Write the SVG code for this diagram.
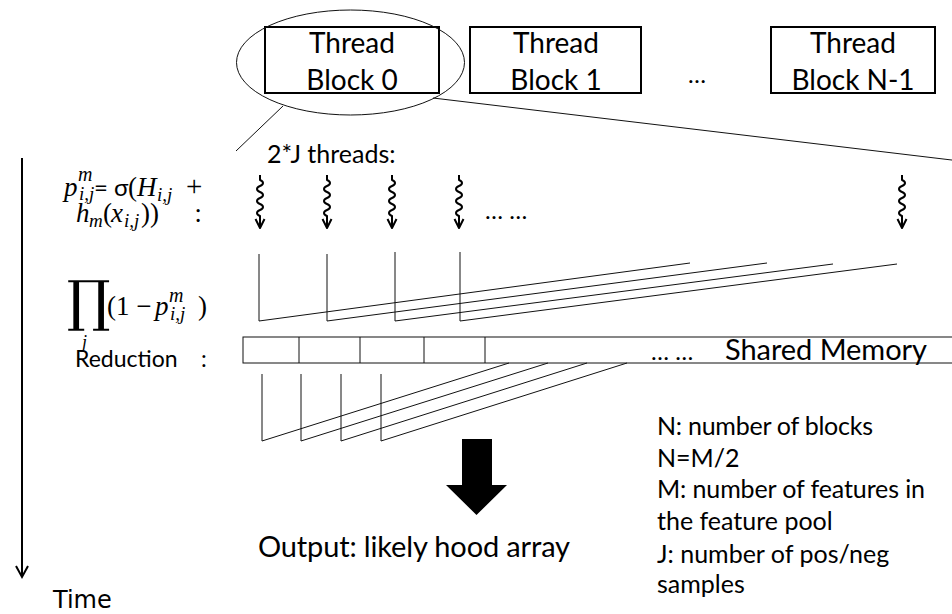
<svg xmlns="http://www.w3.org/2000/svg" xmlns:xlink="http://www.w3.org/1999/xlink" width="952" height="614" viewBox="0 0 952 614">
  <defs>
    <style>
      .t { font-family: Lato, "Open Sans", "Liberation Sans", sans-serif; fill: #000; }
      .m { font-family: "Liberation Serif", "DejaVu Serif", serif; font-style: italic; fill: #000; }
      .mu { font-family: "Liberation Serif", "DejaVu Serif", serif; fill: #000; }
      .box { fill: #fff; stroke: #000; stroke-width: 2; }
      .thin { fill: none; stroke: #111; stroke-width: 1; }
      .wave { fill: none; stroke: #000; stroke-width: 2; stroke-linejoin: round; }
    </style>
    <g id="thread">
      <path class="wave" d="M0,0 V5 c4,1.5 4,4.5 0,6 c-4,1.5 -4,4.5 0,6 c4,1.5 4,4.5 0,6 c-4,1.5 -4,4.5 0,6 c4,1.5 4,4.5 0,6 c-4,1.5 -4,4.5 0,6 V52"/>
      <path class="wave" d="M-4.5,44 L0,53 L4.5,44"/>
    </g>
  </defs>
  <rect width="952" height="614" fill="#fff"/>

  <!-- Thread blocks -->
  <g id="block0">
    <rect class="box" x="265" y="27" width="174" height="66"/>
    <text class="t" x="352" y="53" font-size="28" text-anchor="middle">Thread</text>
    <text class="t" x="352" y="90" font-size="28" text-anchor="middle">Block 0</text>
  </g>
  <g id="block1">
    <rect class="box" x="470" y="27" width="171" height="66"/>
    <text class="t" x="556" y="53" font-size="28" text-anchor="middle">Thread</text>
    <text class="t" x="556" y="90" font-size="28" text-anchor="middle">Block 1</text>
  </g>
  <g id="blocks-ellipsis">
    <text class="t" x="697" y="83" font-size="24" text-anchor="middle">…</text>
  </g>
  <g id="blockN1">
    <rect class="box" x="771" y="27" width="164" height="66"/>
    <text class="t" x="853" y="53" font-size="28" text-anchor="middle">Thread</text>
    <text class="t" x="853" y="90" font-size="28" text-anchor="middle">Block N-1</text>
  </g>

  <!-- Zoom-in ellipse and lines -->
  <g id="zoom">
    <ellipse class="thin" cx="350.5" cy="62.5" rx="114" ry="52.5"/>
    <line class="thin" x1="283" y1="106" x2="236" y2="151"/>
    <line class="thin" x1="433" y1="98" x2="960" y2="161"/>
  </g>

  <!-- Time axis -->
  <g id="time">
    <line x1="22" y1="158" x2="22" y2="576" stroke="#000" stroke-width="2"/>
    <path d="M16,566 L22,577 L28,566" fill="none" stroke="#000" stroke-width="2"/>
    <text x="53" y="608" font-size="24" style="font-family:'DejaVu Sans',sans-serif">Time</text>
  </g>

  <!-- Left labels -->
  <g id="formula1">
    <text class="m" x="64" y="196" font-size="27">p</text>
    <text class="m" x="78" y="181" font-size="20">m</text>
    <text class="m" x="79" y="200" font-size="19">i,j</text>
    <text class="t" x="94" y="196" font-size="24">= σ</text>
    <text class="mu" x="128" y="196" font-size="27">(</text>
    <text class="m" x="137" y="196" font-size="27">H</text>
    <text class="m" x="157" y="201" font-size="19">i,j</text>
    <text class="mu" x="186" y="196" font-size="29">+</text>
    <text class="m" x="76" y="222" font-size="27">h</text>
    <text class="m" x="89" y="227" font-size="19">m</text>
    <text class="mu" x="103" y="222" font-size="27">(</text>
    <text class="m" x="111" y="222" font-size="27">x</text>
    <text class="m" x="124" y="227" font-size="19">i,j</text>
    <text class="mu" x="141" y="222" font-size="27">))</text>
    <text class="t" x="195" y="222" font-size="25">:</text>
  </g>
  <g id="formula2">
    <text class="mu" x="67" y="320" font-size="55" style="font-family:'DejaVu Serif',serif">∏</text>
    <text class="m" x="82" y="348" font-size="18">j</text>
    <text class="mu" x="107" y="315" font-size="27">(1 − </text>
    <text class="m" x="155" y="315" font-size="27">p</text>
    <text class="m" x="169" y="302" font-size="20">m</text>
    <text class="m" x="170" y="320" font-size="19">i,j</text>
    <text class="mu" x="198" y="315" font-size="27">)</text>
  </g>
  <g id="reduction-label">
    <text class="t" x="75" y="367" font-size="23">Reduction</text>
    <text class="t" x="201" y="367" font-size="23">:</text>
  </g>

  <!-- Threads -->
  <g id="threads">
    <text class="t" x="267" y="163" font-size="25">2*J threads:</text>
    <use xlink:href="#thread" href="#thread" x="260" y="175"/>
    <use xlink:href="#thread" href="#thread" x="327" y="175"/>
    <use xlink:href="#thread" href="#thread" x="392" y="175"/>
    <use xlink:href="#thread" href="#thread" x="459" y="175"/>
    <use xlink:href="#thread" href="#thread" x="902" y="175"/>
    <text class="t" x="485" y="219" font-size="24">… …</text>
  </g>

  <!-- Shared memory -->
  <g id="shared-memory">
    <rect x="243" y="337" width="720" height="26" fill="#fff" stroke="#111" stroke-width="1"/>
    <line class="thin" x1="299" y1="337" x2="299" y2="363"/>
    <line class="thin" x1="360" y1="337" x2="360" y2="363"/>
    <line class="thin" x1="424" y1="337" x2="424" y2="363"/>
    <line class="thin" x1="485" y1="337" x2="485" y2="363"/>
    <text class="t" x="651" y="360" font-size="24">… …</text>
    <text class="t" x="725" y="360" font-size="29" textLength="202">Shared Memory</text>
  </g>

  <!-- Connectors -->
  <g id="connectors">
    <!-- pairwise multiply stage -->
    <polyline class="thin" points="259,254 259,321 690,263"/>
    <polyline class="thin" points="327,254 327,321 767,263"/>
    <polyline class="thin" points="395,252 395,321 833,264"/>
    <polyline class="thin" points="460,252 460,321 897,264"/>
    <!-- reduction stage -->
    <polyline class="thin" points="262,374 262,441 509,363"/>
    <polyline class="thin" points="301,374 301,441 548,363"/>
    <polyline class="thin" points="341,374 341,441 587,363"/>
    <polyline class="thin" points="381,374 381,441 627,363"/>
    <!-- output arrow -->
    <polygon points="462,439 492,439 492,485 507,485 476.5,515 446,485 462,485" fill="#000"/>
  </g>

  <g id="output">
    <text class="t" x="258" y="557" font-size="29" textLength="312">Output: likely hood array</text>
  </g>

  <g id="notes">
    <text class="t" x="657" y="435" font-size="25" textLength="216">N: number of blocks</text>
    <text class="t" x="657" y="467" font-size="25">N=M/2</text>
    <text class="t" x="657" y="498" font-size="25" textLength="268">M: number of features in</text>
    <text class="t" x="657" y="530" font-size="25">the feature pool</text>
    <text class="t" x="657" y="563" font-size="25">J: number of pos/neg</text>
    <text class="t" x="657" y="593" font-size="25">samples</text>
  </g>
</svg>
